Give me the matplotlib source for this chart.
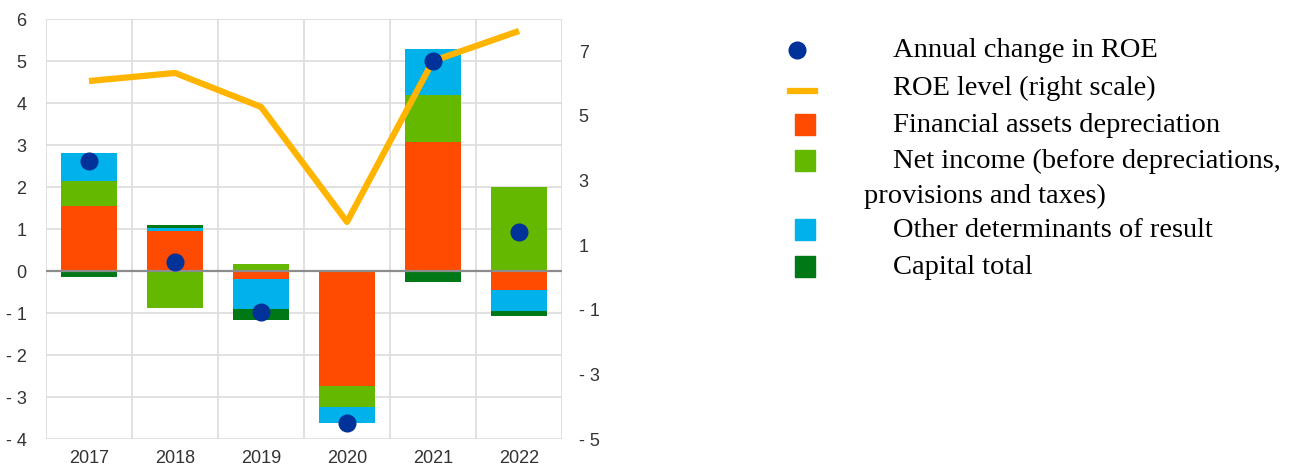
import numpy as np
import matplotlib
matplotlib.use("Agg")
import matplotlib.pyplot as plt
from matplotlib.lines import Line2D
from matplotlib.patches import Rectangle

years = ["2017", "2018", "2019", "2020", "2021", "2022"]
fin_assets_dep = [1.55, 0.95, -0.20, -2.73, 3.07, -0.45]
net_income = [0.60, -0.88, 0.17, -0.50, 1.11, 2.00]
other_det = [0.65, 0.08, -0.70, -0.39, 1.10, -0.50]
capital_total = [-0.15, 0.06, -0.26, 0.00, -0.27, -0.11]
roe_change = [2.62, 0.22, -0.98, -3.62, 5.00, 0.93]
roe_level = [6.08, 6.33, 5.28, 1.72, 6.70, 7.63]

c_red = "#FF4B00"
c_green = "#65B800"
c_blue = "#00B1EA"
c_dgreen = "#007816"
c_dot = "#003299"
c_line = "#FFB400"

plt.rcParams["font.family"] = ["Liberation Sans", "DejaVu Sans"]

fig = plt.figure(figsize=(13.07, 4.74), dpi=100)
ax = fig.add_axes([46 / 1307, 35 / 474, 516 / 1307, 420 / 474])

x = np.arange(len(years))
series = [(fin_assets_dep, c_red), (net_income, c_green),
          (other_det, c_blue), (capital_total, c_dgreen)]
pos_base = np.zeros(len(years))
neg_base = np.zeros(len(years))
for vals, col in series:
    vals = np.array(vals)
    bottom = np.where(vals >= 0, pos_base, neg_base)
    ax.bar(x, vals, 0.66, bottom=bottom, color=col, zorder=2)
    pos_base += np.where(vals >= 0, vals, 0)
    neg_base += np.where(vals < 0, vals, 0)

ax.set_xlim(-0.5, 5.5)
ax.set_ylim(-4, 6)
ax.set_yticks(range(-4, 7))
ax.set_yticklabels([str(v) if v >= 0 else "- " + str(-v) for v in range(-4, 7)])
ax.set_xticks(x)
ax.set_xticklabels(years)
ax.set_xticks(np.arange(-0.5, 6, 1), minor=True)
ax.grid(True, axis="y", color="#dcdcdc", lw=1.2, zorder=0)
ax.grid(True, axis="x", which="minor", color="#dcdcdc", lw=1.2, zorder=0)
ax.axhline(0, color="#8c8c8c", lw=1.6, zorder=3)
for s in ax.spines.values():
    s.set_visible(False)
ax.tick_params(axis="both", which="both", length=0, labelsize=13,
               labelcolor="#333333", pad=8)
ax.tick_params(axis="y", pad=14)

ax2 = ax.twinx()
ax2.plot(x, roe_level, color=c_line, lw=4.5, solid_capstyle="butt", zorder=4)
ax2.set_ylim(-5, 8)
ax2.set_yticks(range(-5, 8, 2))
ax2.set_yticklabels([str(v) if v >= 0 else "- " + str(-v) for v in range(-5, 8, 2)])
for s in ax2.spines.values():
    s.set_visible(False)
ax2.tick_params(axis="y", length=0, labelsize=13, labelcolor="#333333", pad=12)

ax3 = ax.twinx()
ax3.set_ylim(ax.get_ylim())
ax3.plot(x, roe_change, "o", color=c_dot, ms=12, zorder=5)
ax3.axis("off")

# legend drawn manually
lg = fig.add_axes([0, 0, 1, 1])
lg.set_xlim(0, 1307)
lg.set_ylim(474, 0)
lg.axis("off")
font = dict(family="Liberation Serif", fontsize=20.5, color="black", va="center")
lg.plot([797], [50], "o", color=c_dot, ms=12)
lg.text(893, 50, "Annual change in ROE", **font)
lg.add_line(Line2D([790, 815], [91, 91], color=c_line, lw=4.5))
lg.text(893, 88, "ROE level (right scale)", **font)
items = [(124, c_red, "Financial assets depreciation"),
         (160, c_green, "Net income (before depreciations,"),
         (229, c_blue, "Other determinants of result"),
         (266, c_dgreen, "Capital total")]
for yy, col, txt in items:
    lg.add_patch(Rectangle((795, yy - 10), 20, 21, color=col))
    lg.text(893, yy + 1, txt, **font)
lg.text(864, 196, "provisions and taxes)", **font)

fig.savefig("out.png", dpi=100)
